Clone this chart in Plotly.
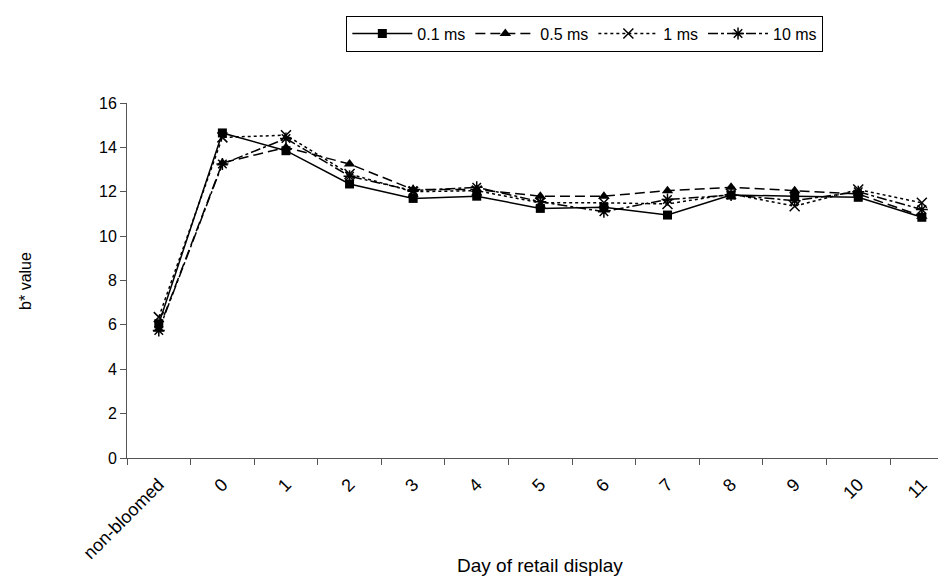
import plotly.graph_objects as go

# category labels on the x axis
days = ["non-bloomed", "0", "1", "2", "3", "4", "5", "6", "7", "8", "9", "10", "11"]

# b* values per pulse duration
b_01ms = [6.05, 14.65, 13.85, 12.35, 11.70, 11.80, 11.25, 11.30, 10.95, 11.85, 11.80, 11.75, 10.85]
b_05ms = [5.80, 13.30, 14.00, 13.25, 12.10, 12.10, 11.80, 11.80, 12.05, 12.20, 12.05, 11.90, 10.90]
b_1ms = [6.35, 14.45, 14.55, 12.80, 12.00, 12.05, 11.50, 11.50, 11.45, 11.90, 11.35, 12.10, 11.50]
b_10ms = [5.75, 13.25, 14.40, 12.70, 12.05, 12.20, 11.55, 11.10, 11.65, 11.85, 11.60, 12.00, 11.20]

FONT = "Liberation Sans, Arial, sans-serif"

series = [
    ("0.1 ms", b_01ms, "solid", dict(symbol="square", size=9, color="black")),
    ("0.5 ms", b_05ms, "10px,5px", dict(symbol="triangle-up", size=10, color="black")),
    ("1 ms", b_1ms, "3px,3px", dict(symbol="x-thin-open", size=10, color="black",
                                    line=dict(color="black", width=1.5))),
    ("10 ms", b_10ms, "10px,3px,3px,3px", dict(symbol="asterisk-open", size=10, color="black",
                                               line=dict(color="black", width=1.5))),
]

fig = go.Figure()

for name, vals, dash, marker in series:
    fig.add_trace(go.Scatter(
        x=days,
        y=vals,
        mode="lines+markers",
        name=name,
        line=dict(color="black", width=1.5, dash=dash),
        marker=marker,
    ))

# axis titles placed as annotations so they sit where the original has them
fig.add_annotation(
    text="Day of retail display",
    xref="paper", yref="paper",
    x=0.504, y=-0.3025,
    xanchor="center", yanchor="middle",
    showarrow=False,
    font=dict(family=FONT, size=19, color="black"),
)
fig.add_annotation(
    text="b* value",
    xref="paper", yref="paper",
    x=-0.124, y=0.5,
    xanchor="center", yanchor="middle",
    textangle=-90,
    showarrow=False,
    font=dict(family=FONT, size=16, color="black"),
)

fig.update_layout(
    width=938,
    height=576,
    paper_bgcolor="white",
    plot_bgcolor="white",
    margin=dict(l=119, r=0, t=94.5, b=125.7),
    font=dict(family=FONT, size=15, color="black"),
    showlegend=True,
    legend=dict(
        orientation="h",
        x=0.559,
        xanchor="center",
        y=1.246,
        yanchor="top",
        bordercolor="black",
        borderwidth=1,
        font=dict(family=FONT, size=16, color="black"),
        itemwidth=60,
        tracegroupgap=0,
    ),
    xaxis=dict(
        type="category",
        categoryorder="array",
        categoryarray=days,
        range=[-0.5, 12.38],
        tickson="boundaries",
        ticks="outside",
        ticklen=6,
        tickcolor="#555555",
        showline=True,
        linecolor="#555555",
        linewidth=1,
        showgrid=False,
        zeroline=False,
        tickangle=-45,
        tickfont=dict(size=18),
        ticklabelstandoff=8,
        automargin=False,
    ),
    yaxis=dict(
        range=[0, 16],
        dtick=2,
        ticks="outside",
        ticklen=6,
        tickcolor="#555555",
        showline=True,
        linecolor="#555555",
        linewidth=1,
        showgrid=False,
        zeroline=False,
        tickfont=dict(size=16),
        automargin=False,
    ),
)

fig.write_html("out.html")
